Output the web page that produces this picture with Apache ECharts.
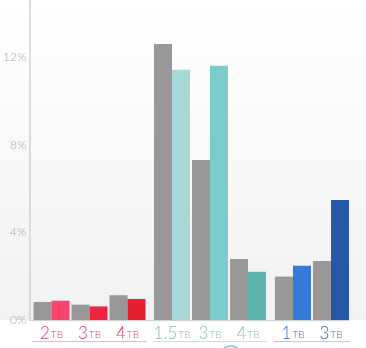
<!DOCTYPE html>
<html>
<head>
<meta charset="utf-8">
<script src="https://cdn.jsdelivr.net/npm/echarts@6/dist/echarts.min.js"></script>
<style>
  html, body { margin: 0; padding: 0; background: #ffffff; }
  #chart { width: 366px; height: 348px; }
</style>
</head>
<body>
<div id="chart"></div>
<script>
// Drive capacities (TB) per product family
const capacitiesRed = ['2', '3', '4'];
const capacitiesTeal = ['1.5', '3', '4'];
const capacitiesBlue = ['1', '3'];

// Failure rates (%) — gray = comparison, coloured = family
const grayRed = [0.82, 0.70, 1.13];
const valuesRed = [0.88, 0.62, 0.96];
const grayTeal = [12.59, 7.30, 2.78];
const valuesTeal = [11.42, 11.60, 2.20];
const grayBlue = [1.98, 2.69];
const valuesBlue = [2.48, 5.47];

// Y axis tick labels
const yTicks = [0, 4, 8, 12];

const Y_MAX = 14.6;
const TOP = 0, BOTTOM = 28;

const familyStyles = [
  { cats: capacitiesRed, gray: grayRed, vals: valuesRed, left: 32.5, width: 114,
    colors: ['#f8436f', '#f0243f', '#e61f31'], label: '#e23a4c', rule: '#f1b3ba' },
  { cats: capacitiesTeal, gray: grayTeal, vals: valuesTeal, left: 153, width: 114,
    colors: ['#a7d7d9', '#7acccb', '#5db3ad'], label: '#86b9c0', rule: '#c9dfe2' },
  { cats: capacitiesBlue, gray: grayBlue, vals: valuesBlue, left: 274, width: 76,
    colors: ['#3679d6', '#2459a8'], label: '#3d68bd', rule: '#bfcbe0' }
];

const grids = [{ left: 28, right: 17, top: TOP, bottom: BOTTOM }];
const xAxes = [{
  gridIndex: 0, type: 'value', min: 0, max: 1,
  axisLine: { show: true, lineStyle: { color: '#cfcfcf', width: 1 } },
  axisTick: { show: false }, axisLabel: { show: false }, splitLine: { show: false }
}];
const yAxes = [{
  gridIndex: 0, type: 'value', min: 0, max: Y_MAX, interval: 4,
  axisLine: { show: true, lineStyle: { color: '#d2d2d2', width: 1.5 } },
  axisTick: { show: false },
  splitLine: { show: false },
  axisLabel: {
    margin: 3,
    color: '#a4a4a4', fontSize: 12, fontFamily: 'Lato', fontWeight: 300,
    formatter: v => (yTicks.indexOf(v) >= 0 ? v + '%' : '')
  }
}];
const series = [];

familyStyles.forEach((f, i) => {
  const g = i + 1;
  grids.push({ left: f.left, width: f.width, top: TOP, bottom: BOTTOM });
  xAxes.push({
    gridIndex: g, type: 'category', data: f.cats,
    axisLine: { show: false }, axisTick: { show: false },
    axisLabel: {
      interval: 0,
      margin: 5,
      formatter: v => '{n|' + v + '}{u|TB}',
      rich: {
        n: { fontSize: 17, fontFamily: 'Lato', fontWeight: 300, color: f.label },
        u: { fontSize: 10, fontFamily: 'Lato', fontWeight: 300, color: f.label, padding: [3, 0, 0, 1] }
      }
    }
  });
  // thin rule underneath the capacity labels
  xAxes.push({
    gridIndex: g, type: 'category', data: f.cats, position: 'bottom', offset: 21,
    axisLine: { show: true, lineStyle: { color: f.rule, width: 1 } },
    axisTick: { show: false }, axisLabel: { show: false }
  });
  yAxes.push({ gridIndex: g, type: 'value', min: 0, max: Y_MAX, show: false });
  series.push({
    type: 'bar', xAxisIndex: 2 * i + 1, yAxisIndex: g,
    data: f.gray, barWidth: 18, barGap: '0%',
    itemStyle: { color: '#999798' }, silent: true
  });
  series.push({
    type: 'bar', xAxisIndex: 2 * i + 1, yAxisIndex: g,
    data: f.vals.map((v, k) => ({ value: v, itemStyle: { color: f.colors[k] } })),
    barWidth: 18, barGap: '0%', silent: true
  });
});

const chart = echarts.init(document.getElementById('chart'), null, { renderer: 'canvas' });
chart.setOption({
  animation: false,
  graphic: [
    {
      type: 'rect', z: -10, silent: true,
      shape: { x: 0, y: 0, width: 366, height: 320 },
      style: {
        fill: new echarts.graphic.LinearGradient(0, 0, 0, 1, [
          { offset: 0, color: '#ffffff' },
          { offset: 1, color: '#f1f1f1' }
        ])
      }
    },
    {
      type: 'circle', z: 5, silent: true,
      shape: { cx: 231, cy: 358, r: 12 },
      style: { fill: 'none', stroke: '#7cc3c3', lineWidth: 1.5 }
    }
  ],
  grid: grids,
  xAxis: xAxes,
  yAxis: yAxes,
  series: series
});
</script>
</body>
</html>
